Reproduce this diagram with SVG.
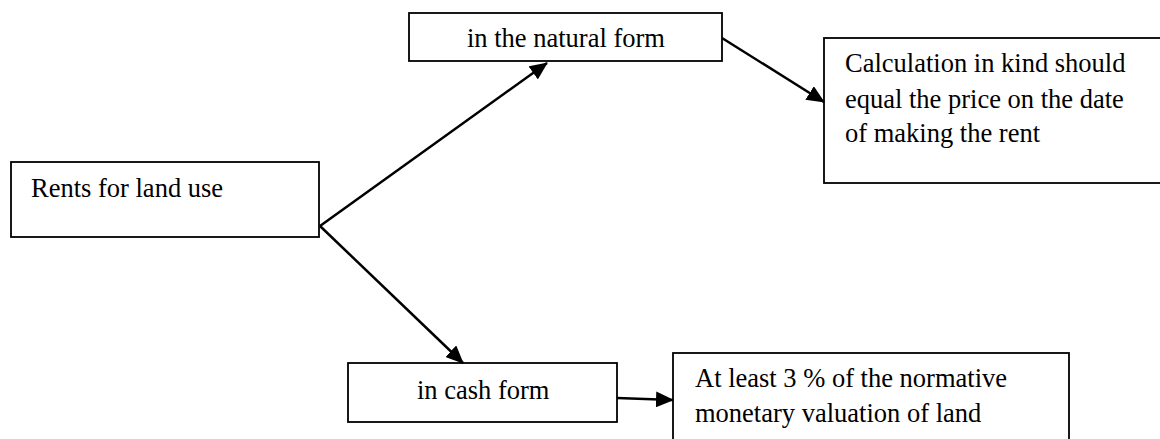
<svg xmlns="http://www.w3.org/2000/svg" width="1160" height="439" viewBox="0 0 1160 439">
<style>
.box{fill:#fff;stroke:#000;stroke-width:1.8}
.t{font-family:"Liberation Serif","Times New Roman",serif;font-size:26.5px;fill:#000}
.c{fill:none;stroke:#000;stroke-width:2.5}
</style>
<defs>
<marker id="ah" markerWidth="18" markerHeight="16" refX="17" refY="8" orient="auto" markerUnits="userSpaceOnUse">
<path d="M0,0 L18,8 L0,16 Z" fill="#000"/>
</marker>
</defs>
<rect width="1160" height="439" fill="#fff"/>
<g id="rents">
<rect class="box" x="11" y="162" width="308" height="75"/>
<text class="t" x="31" y="197">Rents for land use</text>
</g>
<g id="natural">
<rect class="box" x="409" y="13" width="313" height="48"/>
<text class="t" x="467" y="47">in the natural form</text>
</g>
<g id="calc">
<rect class="box" x="824" y="38" width="345" height="145"/>
<text class="t" x="845" y="72">Calculation in kind should</text>
<text class="t" x="845" y="108">equal the price on the date</text>
<text class="t" x="845" y="142">of making the rent</text>
</g>
<g id="cash">
<rect class="box" x="348" y="363" width="269" height="59"/>
<text class="t" x="417" y="399">in cash form</text>
</g>
<g id="atleast">
<rect class="box" x="673" y="353" width="396" height="100"/>
<text class="t" x="695" y="387">At least 3 % of the normative</text>
<text class="t" x="695" y="422">monetary valuation of land</text>
</g>
<g id="connectors">
<line class="c" x1="320" y1="226" x2="547" y2="63" marker-end="url(#ah)"/>
<line class="c" x1="320" y1="226" x2="463" y2="363" marker-end="url(#ah)"/>
<line class="c" x1="722" y1="38" x2="824" y2="102" marker-end="url(#ah)"/>
<line class="c" x1="617" y1="398" x2="673" y2="400" marker-end="url(#ah)"/>
</g>
</svg>
